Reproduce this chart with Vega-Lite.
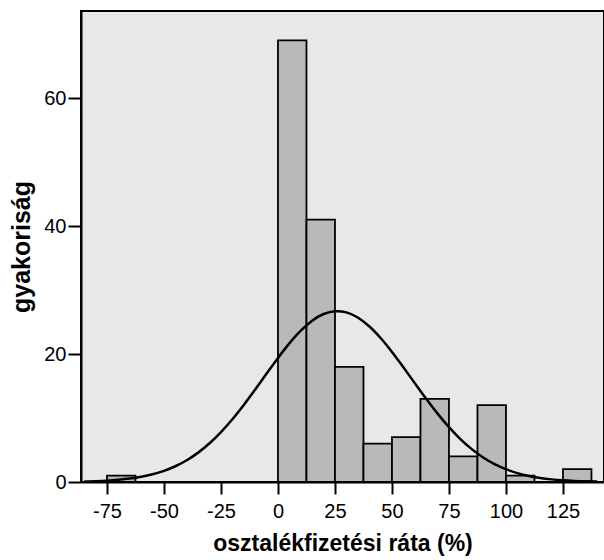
{
  "$schema": "https://vega.github.io/schema/vega-lite/v6.json",
  "width": 523,
  "height": 471,
  "autosize": {"type": "none"},
  "padding": {"left": 81, "top": 11, "right": 0, "bottom": 78},
  "background": "white",
  "config": {
    "view": {"fill": "#e8e8e8", "stroke": "black", "strokeWidth": 2},
    "font": "Liberation Sans",
    "axis": {
      "domainColor": "black",
      "domainWidth": 2,
      "tickColor": "black",
      "tickWidth": 2,
      "grid": false,
      "labelColor": "black",
      "labelFont": "Liberation Sans",
      "labelFontSize": 20,
      "titleFont": "Liberation Sans",
      "titleFontWeight": "bold",
      "titleColor": "black"
    }
  },
  "datasets": {
    "bins": [
      {"start": -75, "end": -62.5, "count": 1},
      {"start": 0, "end": 12.5, "count": 69},
      {"start": 12.5, "end": 25, "count": 41},
      {"start": 25, "end": 37.5, "count": 18},
      {"start": 37.5, "end": 50, "count": 6},
      {"start": 50, "end": 62.5, "count": 7},
      {"start": 62.5, "end": 75, "count": 13},
      {"start": 75, "end": 87.5, "count": 4},
      {"start": 87.5, "end": 100, "count": 12},
      {"start": 100, "end": 112.5, "count": 1},
      {"start": 125, "end": 137.5, "count": 2}
    ],
    "curve": [
      {"x": -85, "y": 0.08}, {"x": -80, "y": 0.13}, {"x": -75, "y": 0.21}, {"x": -70, "y": 0.34},
      {"x": -65, "y": 0.53}, {"x": -60, "y": 0.81}, {"x": -55, "y": 1.2}, {"x": -50, "y": 1.74},
      {"x": -45, "y": 2.46}, {"x": -40, "y": 3.4}, {"x": -35, "y": 4.59}, {"x": -30, "y": 6.05},
      {"x": -25, "y": 7.8}, {"x": -20, "y": 9.8}, {"x": -15, "y": 12.04}, {"x": -10, "y": 14.45},
      {"x": -5, "y": 16.94}, {"x": 0, "y": 19.39}, {"x": 5, "y": 21.67}, {"x": 10, "y": 23.65},
      {"x": 15, "y": 25.21}, {"x": 20, "y": 26.25}, {"x": 25, "y": 26.69}, {"x": 26, "y": 26.7},
      {"x": 30, "y": 26.5}, {"x": 35, "y": 25.7}, {"x": 40, "y": 24.33}, {"x": 45, "y": 22.5},
      {"x": 50, "y": 20.33}, {"x": 55, "y": 17.93}, {"x": 60, "y": 15.45}, {"x": 65, "y": 13.0},
      {"x": 70, "y": 10.68}, {"x": 75, "y": 8.57}, {"x": 80, "y": 6.71}, {"x": 85, "y": 5.14},
      {"x": 90, "y": 3.84}, {"x": 95, "y": 2.8}, {"x": 100, "y": 2.0}, {"x": 105, "y": 1.39},
      {"x": 110, "y": 0.94}, {"x": 115, "y": 0.63}, {"x": 120, "y": 0.41}, {"x": 125, "y": 0.26},
      {"x": 130, "y": 0.16}, {"x": 135, "y": 0.1}, {"x": 140, "y": 0.06}
    ]
  },
  "layer": [
    {
      "data": {"name": "bins"},
      "mark": {"type": "rect", "fill": "#b9b9b9", "stroke": "black", "strokeWidth": 1.8},
      "encoding": {
        "x": {
          "field": "start", "type": "quantitative",
          "scale": {"domain": [-86.4, 143], "nice": false, "zero": false},
          "axis": {
            "values": [-75, -50, -25, 0, 25, 50, 75, 100, 125],
            "labelExpr": "'' + datum.value",
            "tickSize": 12, "labelPadding": 7,
            "title": "osztalékfizetési ráta (%)",
            "titleFontSize": 23, "titlePadding": 11
          }
        },
        "x2": {"field": "end"},
        "y": {
          "field": "count", "type": "quantitative",
          "scale": {"domain": [0, 73.6], "nice": false},
          "axis": {
            "values": [0, 20, 40, 60],
            "tickSize": 13, "labelPadding": 2,
            "title": "gyakoriság",
            "titleFontSize": 25, "titlePadding": 9
          }
        },
        "y2": {"datum": 0}
      }
    },
    {
      "data": {"name": "curve"},
      "mark": {"type": "line", "color": "black", "strokeWidth": 2.5, "interpolate": "monotone"},
      "encoding": {
        "x": {"field": "x", "type": "quantitative"},
        "y": {"field": "y", "type": "quantitative"}
      }
    }
  ]
}
